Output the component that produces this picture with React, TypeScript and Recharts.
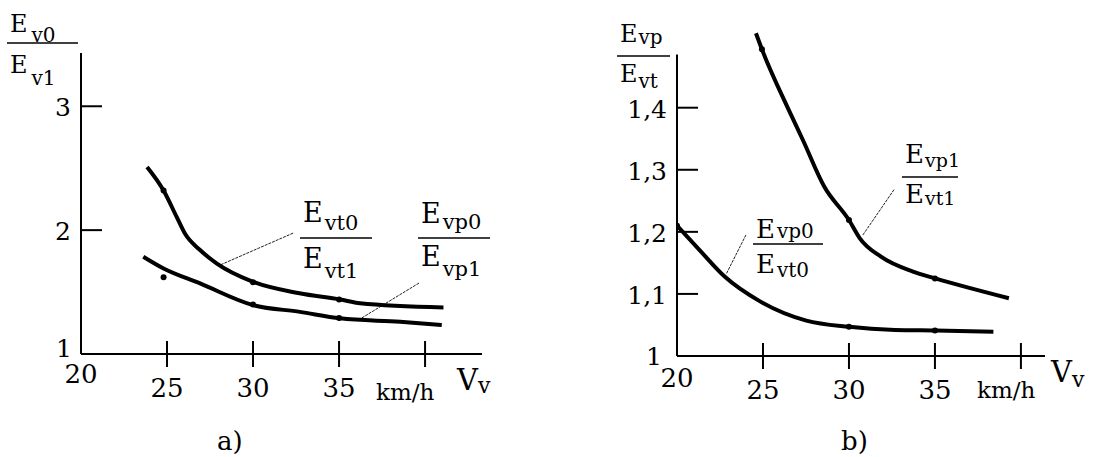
import React from "react";
import {
  ComposedChart,
  Line,
  Scatter,
  XAxis,
  YAxis,
  ReferenceLine,
} from "recharts";

// speed ticks (km/h) shared by both panels
const speedTicks = [20, 25, 30, 35, 40];
const ratioTicksA = [1, 2, 3];
const ratioTicksB = [1, 1.1, 1.2, 1.3, 1.4];

// panel a) upper curve: Evt0 / Evt1
const aTorqueV = [23.84, 24.8, 25.56, 26.05, 26.92, 27.9, 30.0, 32.7, 35.06, 36.22, 41.07];
const aTorqueR = [2.51, 2.32, 2.107, 1.97, 1.839, 1.73, 1.583, 1.49, 1.44, 1.41, 1.376];
// panel a) lower curve: Evp0 / Evp1
const aPowerV = [23.62, 24.8, 26.92, 30.0, 32.73, 35.06, 38.55, 40.97];
const aPowerR = [1.785, 1.69, 1.57, 1.395, 1.34, 1.288, 1.26, 1.234];
// panel a) measured points
const aTorqueDotV = [24.8, 30, 35];
const aTorqueDotR = [2.32, 1.58, 1.44];
const aPowerDotV = [24.8, 30, 35];
const aPowerDotR = [1.62, 1.4, 1.29];

// panel b) upper curve: Evp1 / Evt1
const bUpperV = [24.59, 24.94, 26.49, 27.32, 28.56, 30.0, 30.62, 31.86, 33.72, 35.02, 39.3];
const bUpperR = [1.52, 1.494, 1.397, 1.348, 1.273, 1.219, 1.19, 1.16, 1.136, 1.125, 1.093];
// panel b) lower curve: Evp0 / Evt0
const bLowerV = [20.0, 21.3, 22.77, 24.83, 27.52, 30.0, 32.67, 35.06, 38.4];
const bLowerR = [1.21, 1.171, 1.128, 1.088, 1.057, 1.047, 1.042, 1.041, 1.039];
// panel b) measured points
const bUpperDotV = [24.94, 30, 35];
const bUpperDotR = [1.494, 1.219, 1.125];
const bLowerDotV = [20, 30, 35];
const bLowerDotR = [1.21, 1.047, 1.041];

// leader lines from the labels to the curves: [from, to] as [speed, ratio]
const aTorqueLeader = [[32.33, 1.976], [28.08, 1.718]];
const aPowerLeader = [[39.65, 1.573], [36.12, 1.274]];
const bLowerLeader = [[24.01, 1.195], [22.88, 1.133]];
const bUpperLeader = [[32.62, 1.268], [30.81, 1.195]];

const FONT = '"DejaVu Serif", serif';

const toPts = (v: number[], r: number[]) => v.map((x, i) => ({ v: x, r: r[i] }));
const seg = (l: number[][]) => [
  { x: l[0][0], y: l[0][1] },
  { x: l[1][0], y: l[1][1] },
];

const dotShape = (props: any) => {
  const { cx, cy } = props;
  if (cx == null || cy == null) return null;
  return <circle cx={cx} cy={cy} r={3} fill="#000" />;
};

// y ticks point inwards, label on the left
const makeYTick =
  (axisX: number, fmt: (v: number) => string, base: { dx: number; dy: number }, dy: number) =>
  (props: any) => {
    const { payload } = props;
    const y = payload.coordinate ?? props.y;
    const v = payload.value;
    const isBase = v === 1;
    return (
      <g>
        {!isBase && (
          <line x1={axisX} x2={axisX + 21} y1={y} y2={y} stroke="#000" strokeWidth={2} />
        )}
        <text
          x={isBase ? axisX - base.dx : axisX - 10}
          y={isBase ? y + base.dy : y + dy}
          textAnchor="end"
          fontSize={25}
          fontFamily={FONT}
          fill="#000"
        >
          {fmt(v)}
        </text>
      </g>
    );
  };

// x ticks cross the axis; the last tick carries no number (km/h sits there)
const makeXTick = (axisY: number, firstDy: number) => (props: any) => {
  const { payload } = props;
  const x = payload.coordinate ?? props.x;
  const v = payload.value;
  const isBase = v === 20;
  const isLast = v === 40;
  return (
    <g>
      {!isBase && (
        <line x1={x} x2={x} y1={axisY - 13} y2={axisY + 13} stroke="#000" strokeWidth={2} />
      )}
      {!isLast && (
        <text
          x={x}
          y={axisY + (isBase ? firstDy : 43)}
          textAnchor="middle"
          fontSize={26}
          fontFamily={FONT}
          fill="#000"
        >
          {v}
        </text>
      )}
    </g>
  );
};

type FracProps = {
  x: number;
  y: number;
  w: number;
  num: string;
  den: string;
  ef: number;
  sf: number;
  nb: number;
  nsd: number;
  db: number;
  dsd: number;
  gap?: number;
};

// "E_sub / E_sub" fraction
function Frac({ x, y, w, num, den, ef, sf, nb, nsd, db, dsd, gap = 2 }: FracProps) {
  return (
    <g fontFamily={FONT} fill="#000">
      <text x={x + 3} y={y - nb} fontSize={ef}>
        E
        <tspan dx={gap} dy={nsd} fontSize={sf}>
          {num}
        </tspan>
      </text>
      <line x1={x} x2={x + w} y1={y} y2={y} stroke="#000" strokeWidth={1.5} />
      <text x={x + 3} y={y + db} fontSize={ef}>
        E
        <tspan dx={gap} dy={dsd} fontSize={sf}>
          {den}
        </tspan>
      </text>
    </g>
  );
}

const leaderStyle = { stroke: "#222", strokeWidth: 1, strokeDasharray: "3 1" };

function PanelA() {
  return (
    <ComposedChart
      width={548}
      height={457}
      margin={{ top: 53, right: 66, bottom: 53, left: 0 }}
    >
      <XAxis
        type="number"
        dataKey="v"
        domain={[20, 43.31]}
        ticks={speedTicks}
        interval={0}
        allowDataOverflow
        height={50}
        tickLine={false}
        axisLine={{ stroke: "#000", strokeWidth: 2 }}
        tick={makeXTick(354, 29)}
      />
      <YAxis
        type="number"
        dataKey="r"
        domain={[1, 3.43]}
        ticks={ratioTicksA}
        interval={0}
        allowDataOverflow
        width={81}
        tickLine={false}
        axisLine={{ stroke: "#000", strokeWidth: 2 }}
        tick={makeYTick(81, (v) => String(v), { dx: 9, dy: 3 }, 10)}
      />
      <ReferenceLine segment={seg(aTorqueLeader)} {...leaderStyle} />
      <ReferenceLine segment={seg(aPowerLeader)} {...leaderStyle} />
      <Line
        data={toPts(aTorqueV, aTorqueR)}
        dataKey="r"
        type="monotone"
        stroke="#000"
        strokeWidth={4}
        dot={false}
        isAnimationActive={false}
      />
      <Line
        data={toPts(aPowerV, aPowerR)}
        dataKey="r"
        type="monotone"
        stroke="#000"
        strokeWidth={4}
        dot={false}
        isAnimationActive={false}
      />
      <Scatter
        data={toPts(aTorqueDotV, aTorqueDotR)}
        dataKey="r"
        shape={dotShape}
        isAnimationActive={false}
      />
      <Scatter
        data={toPts(aPowerDotV, aPowerDotR)}
        dataKey="r"
        shape={dotShape}
        isAnimationActive={false}
      />
    </ComposedChart>
  );
}

function PanelB() {
  return (
    <ComposedChart
      width={549}
      height={457}
      margin={{ top: 27, right: 52, bottom: 51, left: 0 }}
    >
      <XAxis
        type="number"
        dataKey="v"
        domain={[20, 41.4]}
        ticks={speedTicks}
        interval={0}
        allowDataOverflow
        height={50}
        tickLine={false}
        axisLine={{ stroke: "#000", strokeWidth: 2 }}
        tick={makeXTick(356, 31)}
      />
      <YAxis
        type="number"
        dataKey="r"
        domain={[1, 1.53]}
        ticks={ratioTicksB}
        interval={0}
        allowDataOverflow
        width={129}
        tickLine={false}
        axisLine={false}
        tick={makeYTick(129, (v) => String(v).replace(".", ","), { dx: 15, dy: 9 }, 10)}
      />
      <ReferenceLine
        segment={[
          { x: 20, y: 1 },
          { x: 20, y: 1.4855 },
        ]}
        stroke="#000"
        strokeWidth={2}
      />
      <ReferenceLine segment={seg(bLowerLeader)} {...leaderStyle} />
      <ReferenceLine segment={seg(bUpperLeader)} {...leaderStyle} />
      <Line
        data={toPts(bUpperV, bUpperR)}
        dataKey="r"
        type="monotone"
        stroke="#000"
        strokeWidth={4}
        dot={false}
        isAnimationActive={false}
      />
      <Line
        data={toPts(bLowerV, bLowerR)}
        dataKey="r"
        type="monotone"
        stroke="#000"
        strokeWidth={4}
        dot={false}
        isAnimationActive={false}
      />
      <Scatter
        data={toPts(bUpperDotV, bUpperDotR)}
        dataKey="r"
        shape={dotShape}
        isAnimationActive={false}
      />
      <Scatter
        data={toPts(bLowerDotV, bLowerDotR)}
        dataKey="r"
        shape={dotShape}
        isAnimationActive={false}
      />
    </ComposedChart>
  );
}

export default function App() {
  return (
    <div
      style={{
        position: "absolute",
        left: 0,
        top: 0,
        width: 1097,
        height: 457,
        background: "#fff",
        overflow: "hidden",
      }}
    >
      <div style={{ position: "absolute", left: 0, top: 0 }}>
        <PanelA />
      </div>
      <div style={{ position: "absolute", left: 548, top: 0 }}>
        <PanelB />
      </div>
      <svg
        width={1097}
        height={457}
        style={{ position: "absolute", left: 0, top: 0, pointerEvents: "none" }}
      >
        {/* panel a) */}
        <Frac x={7} y={43} w={71} num="v0" den="v1" ef={24} sf={20} nb={11} nsd={10} db={30} dsd={12} gap={4} />
        <Frac x={300} y={238} w={72} num="vt0" den="vt1" ef={27} sf={21} nb={16} nsd={8} db={30} dsd={10} />
        <Frac x={418} y={238} w={72} num="vp0" den="vp1" ef={27} sf={21} nb={15} nsd={6} db={28} dsd={10} />
        <g fontFamily={FONT} fill="#000">
          <text x={376} y={400} fontSize={23}>km/h</text>
          <text x={457} y={390} fontSize={29}>
            V<tspan dy={3} fontSize={22}>v</tspan>
          </text>
          <text x={217} y={450} fontSize={26}>a)</text>
        </g>
        {/* panel b) */}
        <Frac x={617} y={56} w={53} num="vp" den="vt" ef={24} sf={20} nb={14} nsd={2} db={26} dsd={6} gap={1} />
        <Frac x={753} y={244} w={70} num="vp0" den="vt0" ef={26} sf={20} nb={6} nsd={0} db={29} dsd={4} />
        <Frac x={902} y={177} w={56} num="vp1" den="vt1" ef={26} sf={19} nb={14} nsd={4} db={26} dsd={2} gap={1} />
        <g fontFamily={FONT} fill="#000">
          <text x={977} y={398} fontSize={23}>km/h</text>
          <text x={1051} y={382} fontSize={29}>
            V<tspan dy={5} fontSize={22}>v</tspan>
          </text>
          <text x={841} y={450} fontSize={26}>b)</text>
        </g>
      </svg>
    </div>
  );
}
